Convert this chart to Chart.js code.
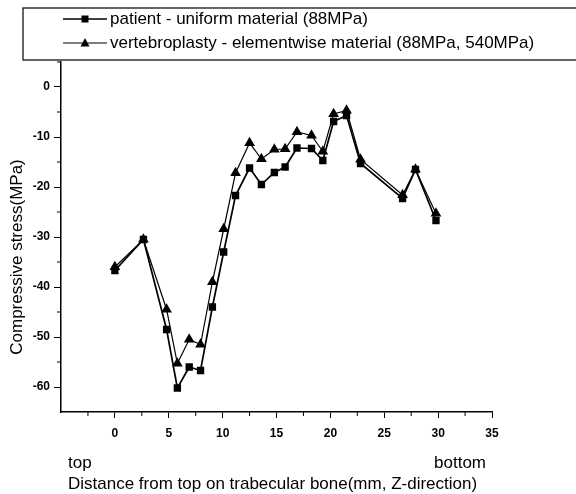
<!DOCTYPE html>
<html>
<head>
<meta charset="utf-8">
<script src="https://cdn.jsdelivr.net/npm/chart.js@4.4.0/dist/chart.umd.min.js"></script>
<style>
  html, body { margin: 0; padding: 0; background: #fff; }
  #wrap { width: 576px; height: 494px; }
</style>
</head>
<body>
<div id="wrap"><canvas id="chart1"></canvas></div>
<script>
// distance from top (mm)
const distance = [0, 2.65, 4.8, 5.8, 6.9, 7.95, 9.05, 10.1, 11.2, 12.5, 13.6, 14.8, 15.8, 16.9, 18.25, 19.3, 20.3, 21.5, 22.8, 26.7, 27.9, 29.8];
const patient = [-36.7, -30.5, -48.5, -60.2, -56, -56.7, -44, -33, -21.7, -16.2, -19.5, -17.1, -16, -12.2, -12.3, -14.7, -6.9, -5.7, -15.3, -22.3, -16.5, -26.7];
const vertebro = [-36, -30.5, -44.5, -55.3, -50.5, -51.5, -39, -28.4, -17.2, -11.2, -14.4, -12.5, -12.4, -9, -9.7, -12.9, -5.4, -4.7, -14.5, -21.6, -16.5, -25.3];
const xTicks = [0, 5, 10, 15, 20, 25, 30, 35];
const yTicks = [-60, -50, -40, -30, -20, -10, 0];

const labels = {
  s1: 'patient - uniform material (88MPa)',
  s2: 'vertebroplasty - elementwise material (88MPa, 540MPa)',
  y: 'Compressive stress(MPa)',
  x: 'Distance from top on trabecular bone(mm, Z-direction)',
  left: 'top',
  right: 'bottom',
};

const FONT = '"Liberation Sans", Arial, sans-serif';

let toPoints = (xs, ys) => xs.map((x, i) => ({ x: x, y: ys[i] }));

const patientSet = {
  label: labels.s1,
  data: toPoints(distance, patient),
  borderColor: '#000',
  backgroundColor: '#000',
  borderWidth: 1.7,
  pointStyle: 'rect',
  pointRadius: 4,
  showLine: true,
};

const vertebroSet = {
  label: labels.s2,
  data: toPoints(distance, vertebro),
  borderColor: '#000',
  backgroundColor: '#000',
  borderWidth: 1.2,
  pointStyle: 'triangle',
  pointRadius: 5,
  showLine: true,
};

// minor ticks, axis titles and the boxed legend
const extras = {
  id: 'extras',
  afterDraw(chart) {
    const ctx = chart.ctx;
    const xs = chart.scales.x, ys = chart.scales.y;
    const area = chart.chartArea;
    ctx.save();
    ctx.strokeStyle = '#000';
    ctx.lineWidth = 1;
    ctx.beginPath();
    for (let v = -2.5; v < 35; v += 5) {
      const px = xs.getPixelForValue(v);
      ctx.moveTo(px, area.bottom);
      ctx.lineTo(px, area.bottom + 4);
    }
    for (let v = -55; v <= 5; v += 10) {
      const py = ys.getPixelForValue(v);
      ctx.moveTo(area.left, py);
      ctx.lineTo(area.left - 4, py);
    }
    ctx.stroke();

    ctx.fillStyle = '#000';
    ctx.font = '17px ' + FONT;
    ctx.textBaseline = 'middle';
    ctx.textAlign = 'left';
    ctx.fillText(labels.left, 68, 463);
    ctx.fillText(labels.x, 68, 484);
    ctx.textAlign = 'right';
    ctx.fillText(labels.right, 486, 463);

    ctx.save();
    ctx.translate(17, 257);
    ctx.rotate(-Math.PI / 2);
    ctx.textAlign = 'center';
    ctx.fillText(labels.y, 0, 0);
    ctx.restore();

    // legend
    ctx.lineWidth = 1.2;
    ctx.strokeRect(23, 8, 600, 52);
    const rows = [[patientSet, 19], [vertebroSet, 43]];
    rows.forEach(([ds, y]) => {
      ctx.lineWidth = ds.borderWidth;
      ctx.beginPath();
      ctx.moveTo(63, y);
      ctx.lineTo(107, y);
      ctx.stroke();
      ctx.beginPath();
      if (ds.pointStyle === 'rect') {
        ctx.rect(81.5, y - 3.5, 7, 7);
      } else {
        ctx.moveTo(85, y - 5);
        ctx.lineTo(89.5, y + 3.5);
        ctx.lineTo(80.5, y + 3.5);
        ctx.closePath();
      }
      ctx.fill();
      ctx.textAlign = 'left';
      ctx.fillText(ds.label, 110, y);
    });
    ctx.restore();
  }
};

new Chart(
  document.getElementById('chart1'),
  {
    type: 'scatter',
    data: {
      datasets: [
        patientSet,
        vertebroSet,
      ]
    },
    plugins: [extras],
    options: {
      responsive: true,
      maintainAspectRatio: false,
      animation: false,
      layout: {
        padding: { top: 62, right: 84, left: 0, bottom: 0 },
      },
      plugins: {
        legend: { display: false },
        tooltip: { enabled: false },
      },
      scales: {
        x: {
          type: 'linear',
          min: -5,
          max: 35,
          afterBuildTicks: (scale) => {
            scale.ticks = xTicks.map(v => ({ value: v }));
          },
          afterFit: (scale) => { scale.height = 82; },
          grid: {
            drawOnChartArea: false,
            drawTicks: true,
            tickLength: 6,
            tickColor: '#000',
            tickWidth: 1,
          },
          border: { display: true, color: '#000', width: 1.5 },
          ticks: {
            color: '#000',
            padding: 8,
            maxRotation: 0,
            font: { family: FONT, size: 12, weight: 'bold' },
          },
        },
        y: {
          min: -65,
          max: 5,
          afterBuildTicks: (scale) => {
            scale.ticks = yTicks.map(v => ({ value: v }));
          },
          afterFit: (scale) => { scale.width = 61; },
          grid: {
            drawOnChartArea: false,
            drawTicks: true,
            tickLength: 7,
            tickColor: '#000',
            tickWidth: 1,
          },
          border: { display: true, color: '#000', width: 1.5 },
          ticks: {
            color: '#000',
            padding: 4,
            font: { family: FONT, size: 12, weight: 'bold' },
          },
        }
      }
    }
  }
);
</script>
</body>
</html>
